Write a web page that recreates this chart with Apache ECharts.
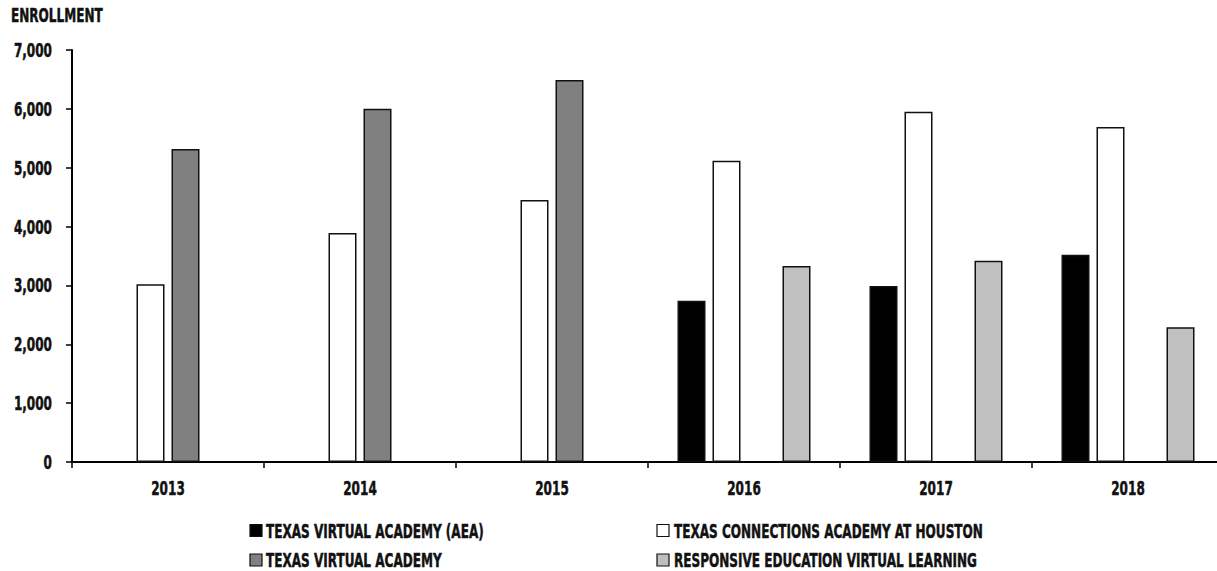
<!DOCTYPE html>
<html>
<head>
<meta charset="utf-8">
<script src="https://cdn.jsdelivr.net/npm/echarts@6/dist/echarts.min.js"></script>
<style>
html,body{margin:0;padding:0;background:#fff;}
#c{width:1217px;height:571px;}
</style>
</head>
<body>
<div id="c"></div>
<script>
var categories = ['2013','2014','2015','2016','2017','2018'];
var seriesNames = ['TEXAS VIRTUAL ACADEMY (AEA)','TEXAS CONNECTIONS ACADEMY AT HOUSTON','TEXAS VIRTUAL ACADEMY','RESPONSIVE EDUCATION VIRTUAL LEARNING'];
var tvaAEA = [null, null, null, 2740, 2990, 3520];
var tcaHouston = [3020, 3890, 4450, 5120, 5950, 5690];
var tva = [5320, 6000, 6490, null, null, null];
var responsiveEd = [null, null, null, 3330, 3420, 2290];
var seriesColors = ['#000000','#ffffff','#808080','#c0c0c0'];
var yTicks = [0,1000,2000,3000,4000,5000,6000,7000];
var yAxisTitle = 'ENROLLMENT';

var FONT_FAMILY = "'DejaVu Sans Condensed','DejaVu Sans',sans-serif";
var FONT_SIZE = 20;
var FONT_WEIGHT = 'bold';
var TEXT_COLOR = '#111';

// horizontal condensing factor so the text matches the narrow reference face
var mctx = document.createElement('canvas').getContext('2d');
mctx.font = FONT_WEIGHT + ' ' + FONT_SIZE + 'px ' + FONT_FAMILY;
var SX = 218 / mctx.measureText(seriesNames[0]).width;

var dataSets = [tvaAEA, tcaHouston, tva, responsiveEd];

var chart = echarts.init(document.getElementById('c'), null, {renderer:'svg'});
var series = dataSets.map(function(d, i){
  return {
    name: seriesNames[i],
    type: 'bar',
    data: d,
    barWidth: 28,
    barGap: '25%',
    itemStyle: {color: seriesColors[i], borderColor: '#111', borderWidth: 1.5},
    emphasis: {disabled: true}
  };
});

chart.setOption({
  animation: false,
  backgroundColor: '#fff',
  grid: {left: 72, top: 50, width: 1152, bottom: 109, containLabel: false, outerBoundsMode: 'none'},
  xAxis: {
    type: 'category',
    data: categories,
    axisLine: {lineStyle: {color: '#000', width: 2}},
    axisTick: {show: true, length: 6, lineStyle: {color: '#000', width: 1.5}},
    axisLabel: {show: false},
    splitLine: {show: false}
  },
  yAxis: {
    type: 'value',
    min: yTicks[0], max: yTicks[yTicks.length-1], interval: 1000,
    axisLine: {show: true, lineStyle: {color: '#000', width: 2}},
    axisTick: {show: true, length: 6, lineStyle: {color: '#000', width: 1.5}},
    axisLabel: {show: false},
    splitLine: {show: false}
  },
  series: series
});

function txt(str, x, y, align){
  return {
    type: 'text', x: x, y: y, scaleX: SX, scaleY: 1, silent: true,
    style: {
      text: str, fill: TEXT_COLOR, stroke: TEXT_COLOR, lineWidth: 0.5,
      fontFamily: FONT_FAMILY, fontSize: FONT_SIZE, fontWeight: FONT_WEIGHT,
      align: align, textAlign: align,
      verticalAlign: 'middle', textVerticalAlign: 'middle'
    }
  };
}

var g = [];
// axis title
g.push(txt(yAxisTitle, 11, 15, 'left'));
// y tick labels, positioned by the value axis
yTicks.forEach(function(v){
  var py = chart.convertToPixel({yAxisIndex: 0}, v);
  g.push(txt(v.toLocaleString('en-US'), 52, py, 'right'));
});
// x category labels, positioned by the category axis
categories.forEach(function(c){
  var px = chart.convertToPixel({xAxisIndex: 0}, c);
  g.push(txt(c, px, 488, 'center'));
});
// legend (2 columns x 2 rows)
var legendPos = [
  {rx: 250, tx: 266, y: 530.5},
  {rx: 657, tx: 674, y: 530.5},
  {rx: 250, tx: 266, y: 560},
  {rx: 657, tx: 674, y: 560}
];
seriesNames.forEach(function(name, i){
  var p = legendPos[i];
  g.push({
    type: 'rect', silent: true,
    shape: {x: p.rx, y: p.y - 6, width: 12, height: 12},
    style: {fill: seriesColors[i], stroke: '#111', lineWidth: 1.2}
  });
  g.push(txt(name, p.tx, p.y, 'left'));
});

chart.setOption({graphic: g});
</script>
</body>
</html>
